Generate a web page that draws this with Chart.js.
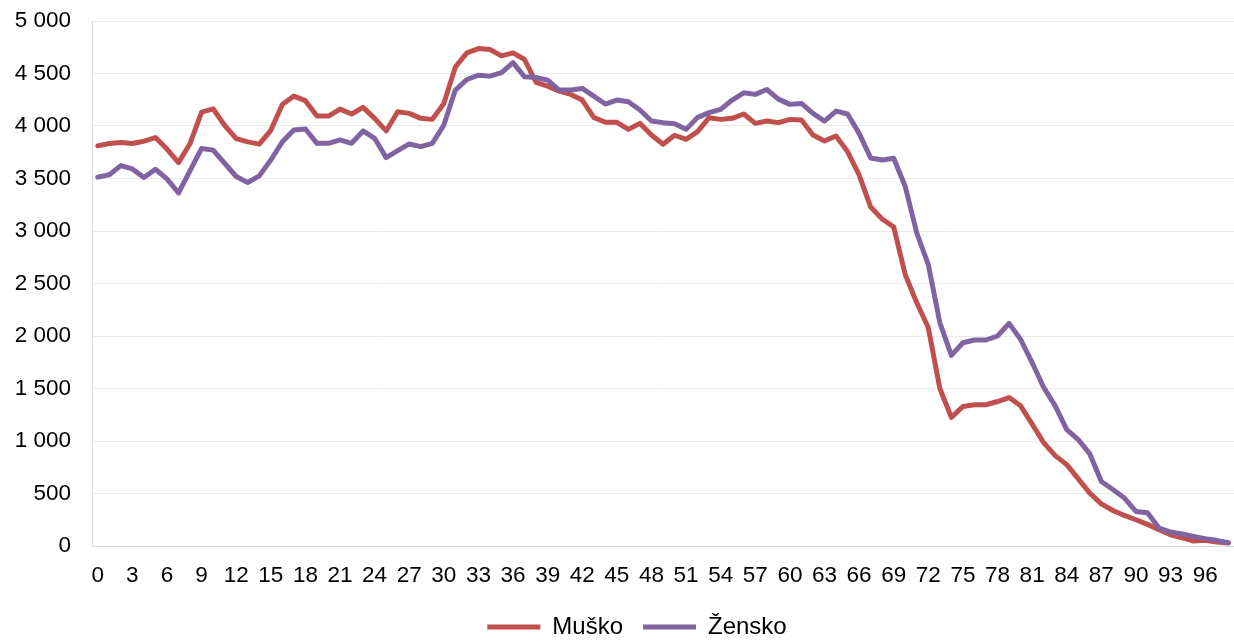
<!DOCTYPE html>
<html>
<head>
<meta charset="utf-8">
<title>Stanovništvo po starosti i spolu</title>
<script src="https://cdn.jsdelivr.net/npm/chart.js@4/dist/chart.umd.min.js"></script>
<style>
	html, body { margin: 0; padding: 0; background: #fff; }
	#wrapper { width: 1234px; height: 642px; }
</style>
</head>
<body>
<div id="wrapper"><canvas id="grafico" width="1234" height="642"></canvas></div>
<script>
"use strict";

// starost 0..98
const eta = Array.from({ length: 99 }, (_, i) => String(i));

const musko = [
	3811, 3833, 3843, 3833, 3855, 3890, 3780, 3651, 3833, 4132,
	4164, 4006, 3880, 3849, 3827, 3959, 4204, 4285, 4241, 4095,
	4095, 4161, 4114, 4177, 4073, 3953, 4136, 4120, 4073, 4063,
	4215, 4563, 4696, 4737, 4728, 4668, 4696, 4633, 4415, 4380,
	4332, 4301, 4247, 4082, 4035, 4035, 3968, 4025, 3914, 3826,
	3912, 3873, 3946, 4079, 4063, 4073, 4114, 4025, 4047, 4032,
	4063, 4057, 3915, 3858, 3905, 3756, 3535, 3228, 3114, 3038,
	2585, 2316, 2079, 1500, 1225, 1329, 1345, 1345, 1376, 1414,
	1335, 1161, 985, 861, 775, 639, 503, 402, 338, 291,
	250, 206, 155, 107, 79, 47, 54, 38, 28
];

const zensko = [
	3513, 3535, 3623, 3591, 3509, 3588, 3497, 3362, 3575, 3786,
	3770, 3645, 3519, 3462, 3525, 3676, 3849, 3962, 3972, 3835,
	3835, 3867, 3835, 3953, 3883, 3699, 3766, 3829, 3804, 3835,
	4009, 4342, 4443, 4484, 4475, 4509, 4604, 4468, 4462, 4437,
	4342, 4342, 4358, 4285, 4209, 4247, 4231, 4152, 4047, 4032,
	4022, 3968, 4082, 4127, 4158, 4247, 4316, 4301, 4348, 4256,
	4206, 4215, 4120, 4047, 4142, 4114, 3930, 3696, 3677, 3693,
	3424, 2981, 2680, 2126, 1816, 1936, 1962, 1962, 2000, 2120,
	1968, 1747, 1510, 1335, 1108, 1013, 877, 614, 538, 456,
	329, 316, 171, 133, 114, 92, 70, 54, 32
];

const yMin = 0;
const yMax = 5000;
const yStep = 500;
const serie = ["Muško", "Žensko"];
const colori = ["#C0504D", "#8064A2"];

const famiglia = "'Liberation Sans', Arial, sans-serif";
const fontTick = { family: famiglia, size: 22.5 };
const fontLegenda = { family: famiglia, size: 24 };

function migliaia(v) {
	return String(v).replace(/\B(?=(\d{3})+(?!\d))/g, " ");
}

// sposta la legenda un po' a destra, come nell'originale
const spostaLegenda = {
	id: "spostaLegenda",
	afterLayout(chart) {
		if (chart.legend) {
			chart.legend.left += 40;
		}
	}
};

const canvas = document.getElementById("grafico");

let chartOptions = {
	type: "line",
	data: {
		labels: eta,
		datasets: [
			{
				label: serie[0],
				data: musko,
				borderColor: colori[0],
				backgroundColor: colori[0],
				borderWidth: 5,
				pointRadius: 0,
				tension: 0,
				borderJoinStyle: "round",
				borderCapStyle: "round",
				order: 2
			},
			{
				label: serie[1],
				data: zensko,
				borderColor: colori[1],
				backgroundColor: colori[1],
				borderWidth: 5,
				pointRadius: 0,
				tension: 0,
				borderJoinStyle: "round",
				borderCapStyle: "round",
				order: 1
			}
		]
	},
	options: {
		responsive: false,
		animation: false,
		layout: { padding: { top: 21, right: 0, left: 0, bottom: -7 } },
		plugins: {
			tooltip: { enabled: false },
			legend: {
				position: "bottom",
				labels: {
					font: fontLegenda,
					color: "#000",
					boxWidth: 53,
					boxHeight: 5,
					padding: 20,
					sort: (a, b) => a.datasetIndex - b.datasetIndex,
					generateLabels: function (chart) {
						let items = Chart.defaults.plugins.legend.labels.generateLabels(chart);
						for (const it of items) {
							it.lineWidth = 0;
							it.strokeStyle = it.fillStyle;
						}
						return items;
					}
				}
			}
		},
		scales: {
			x: {
				offset: true,
				grid: {
					display: true,
					color: "rgba(0,0,0,0)",
					drawTicks: true,
					tickLength: 16,
					tickColor: "rgba(0,0,0,0)"
				},
				border: { display: true, color: "#d9d9d9", width: 1 },
				ticks: {
					autoSkip: false,
					maxRotation: 0,
					minRotation: 0,
					padding: 0,
					font: fontTick,
					color: "#000",
					callback: function (val, idx) {
						return idx % 3 === 0 ? this.getLabelForValue(val) : "";
					}
				},
				afterFit: function (scale) { scale.height = 49; }
			},
			y: {
				min: yMin,
				max: yMax,
				grid: {
					color: "#ebebeb",
					lineWidth: 1,
					drawTicks: true,
					tickLength: 21,
					tickColor: "rgba(0,0,0,0)"
				},
				border: { display: true, color: "#d9d9d9", width: 1 },
				ticks: {
					stepSize: yStep,
					padding: 0,
					font: fontTick,
					color: "#000",
					callback: (v) => migliaia(v)
				},
				afterFit: function (scale) { scale.width = 92; }
			}
		}
	},
	plugins: [spostaLegenda]
};

let chart = new Chart(canvas, chartOptions);
</script>
</body>
</html>
